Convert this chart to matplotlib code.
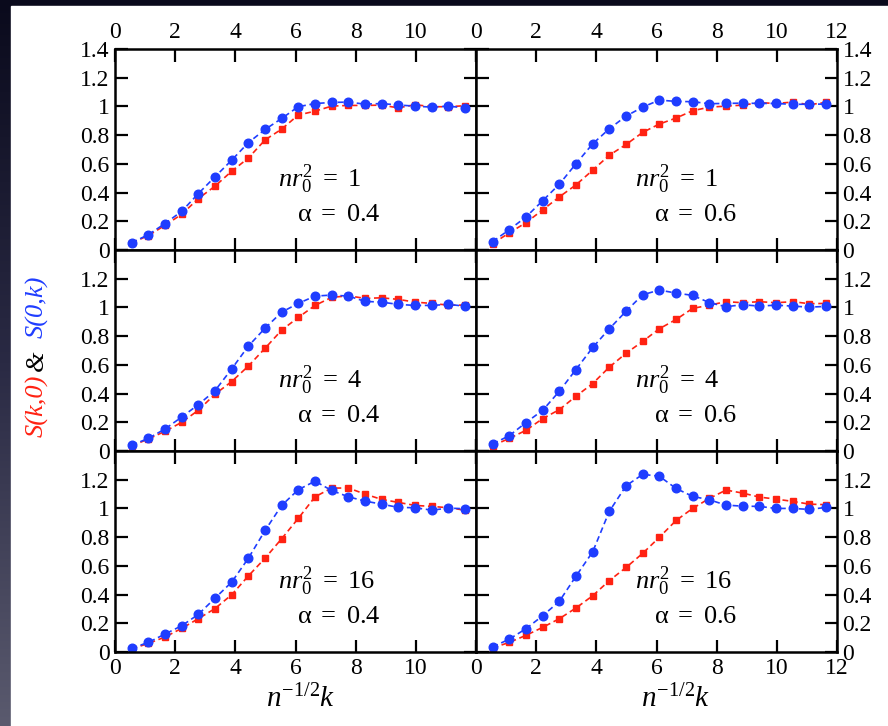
import numpy as np
import matplotlib
matplotlib.use("Agg")
from matplotlib import pyplot as plt
from matplotlib.patches import Rectangle


# k grid (units of n^{1/2})
k = [0.55, 1.11, 1.66, 2.22, 2.77, 3.32, 3.88, 4.43, 4.99, 5.54, 6.09,
     6.65, 7.20, 7.76, 8.31, 8.86, 9.42, 9.97, 10.53, 11.08, 11.63]

# S(k,0) -> red squares, S(0,k) -> blue circles
red_1_04 = [0.05, 0.10, 0.172, 0.249, 0.358, 0.444, 0.549, 0.64, 0.767, 0.842, 0.94,
            0.967, 1.002, 1.007, 1.007, 1.009, 0.99, 1.012, 0.998, 0.998, 1.005]
blue_1_04 = [0.05, 0.107, 0.184, 0.27, 0.393, 0.509, 0.626, 0.747, 0.84, 0.916, 0.998,
             1.02, 1.028, 1.03, 1.016, 1.02, 1.01, 1.002, 0.995, 1.002, 0.99]

red_1_06 = [0.044, 0.12, 0.19, 0.28, 0.37, 0.453, 0.556, 0.66, 0.735, 0.819, 0.877,
            0.919, 0.97, 0.995, 1.002, 1.009, 1.026, 1.021, 1.03, 1.012, 1.028]
blue_1_06 = [0.058, 0.142, 0.23, 0.344, 0.458, 0.60, 0.74, 0.844, 0.933, 0.995, 1.044,
             1.035, 1.033, 1.019, 1.021, 1.023, 1.021, 1.021, 1.014, 1.016, 1.016]

red_4_04 = [0.035, 0.084, 0.137, 0.20, 0.284, 0.395, 0.484, 0.591, 0.716, 0.842, 0.93,
            1.014, 1.07, 1.081, 1.063, 1.067, 1.056, 1.037, 1.028, 1.016, 1.016]
blue_4_04 = [0.04, 0.088, 0.153, 0.237, 0.323, 0.419, 0.572, 0.73, 0.856, 0.967, 1.028,
             1.079, 1.086, 1.079, 1.042, 1.037, 1.021, 1.014, 1.014, 1.021, 1.009]

red_4_06 = [0.037, 0.088, 0.144, 0.226, 0.288, 0.381, 0.47, 0.584, 0.681, 0.763, 0.851,
            0.916, 0.993, 1.016, 1.04, 1.033, 1.04, 1.033, 1.04, 1.026, 1.028]
blue_4_06 = [0.049, 0.107, 0.198, 0.284, 0.416, 0.567, 0.721, 0.851, 0.974, 1.088, 1.121,
             1.10, 1.084, 1.033, 1.005, 1.019, 1.009, 1.016, 1.009, 1.002, 1.007]

red_16_04 = [0.021, 0.06, 0.104, 0.165, 0.232, 0.302, 0.399, 0.529, 0.654, 0.789, 0.93,
             1.081, 1.142, 1.142, 1.10, 1.063, 1.042, 1.021, 1.014, 1.005, 0.988]
blue_16_04 = [0.026, 0.067, 0.125, 0.183, 0.262, 0.374, 0.487, 0.652, 0.847, 1.021, 1.13,
              1.19, 1.125, 1.081, 1.051, 1.03, 1.007, 1.005, 0.988, 1.002, 0.998]

red_16_06 = [0.028, 0.067, 0.116, 0.172, 0.232, 0.306, 0.392, 0.497, 0.589, 0.687, 0.798,
             0.916, 1.0, 1.07, 1.128, 1.107, 1.079, 1.065, 1.049, 1.03, 1.026]
blue_16_06 = [0.035, 0.09, 0.162, 0.253, 0.353, 0.527, 0.698, 0.979, 1.158, 1.237, 1.225,
              1.139, 1.084, 1.06, 1.023, 1.016, 1.014, 1.0, 1.0, 0.993, 1.007]

densities = ["1", "4", "16"]
alphas = ["0.4", "0.6"]
red_series = [[red_1_04, red_1_06], [red_4_04, red_4_06], [red_16_04, red_16_06]]
blue_series = [[blue_1_04, blue_1_06], [blue_4_04, blue_4_06], [blue_16_04, blue_16_06]]

RED = "#ff2212"
BLUE = "#1f3dff"

plt.rcParams["font.family"] = "serif"
plt.rcParams["font.serif"] = ["Liberation Serif", "DejaVu Serif"]
plt.rcParams["mathtext.fontset"] = "custom"
plt.rcParams["mathtext.rm"] = "Liberation Serif"
plt.rcParams["mathtext.it"] = "Liberation Serif:italic"
plt.rcParams["mathtext.bf"] = "Liberation Serif:bold"

W, H = 888, 726
fig = plt.figure(figsize=(W / 100, H / 100), dpi=100)

# dark slide background with a white card on top
bg = fig.add_axes([0, 0, 1, 1], zorder=-10)
grad = np.linspace(0, 1, 256)[:, None] * np.ones((1, 8))
bg.imshow(grad, aspect="auto", extent=[0, 1, 0, 1], origin="upper",
          cmap=matplotlib.colors.LinearSegmentedColormap.from_list(
              "slide", ["#0a0a1c", "#2a2a44", "#5a5a6e"]))
bg.add_patch(Rectangle((11 / W, 0), 1, 1 - 6 / H, color="white"))
bg.set_xlim(0, 1)
bg.set_ylim(0, 1)
bg.axis("off")

left, right = 115 / W, 837 / W
top, bottom = 1 - 49 / H, 1 - 652 / H
mid = 476 / W
colw = [mid - left, right - mid]
rowh = (top - bottom) / 3

for r in range(3):
    for c in range(2):
        x0 = left if c == 0 else mid
        y0 = top - (r + 1) * rowh
        ax = fig.add_axes([x0, y0, colw[c], rowh])
        ax.plot(k, red_series[r][c], color=RED, ls=(0, (3.5, 2.2)), lw=1.2,
                marker="s", ms=5, mec=RED, mfc=RED)
        ax.plot(k, blue_series[r][c], color=BLUE, ls=(0, (3.5, 2.2)), lw=1.2,
                marker="o", ms=6.2, mec=BLUE, mfc=BLUE)
        ax.set_xlim(0, 12)
        ax.set_ylim(0, 1.4)

        ax.set_xticks(np.arange(0, 13, 2))
        ax.set_yticks(np.arange(0, 1.41, 0.2))
        xl = ["0", "2", "4", "6", "8", "10", "12" if c == 1 else ""]
        yl = ["0", "0.2", "0.4", "0.6", "0.8", "1", "1.2", "1.4" if r == 0 else ""]
        ax.set_xticklabels(xl)
        ax.set_yticklabels(yl)
        ax.tick_params(direction="in", length=9, width=1.6, top=True, right=True,
                       labelsize=17, pad=4,
                       labelbottom=(r == 2), labeltop=(r == 0),
                       labelleft=(c == 0), labelright=(c == 1))
        for s in ax.spines.values():
            s.set_linewidth(1.8)

        tx = 5.42 if c == 0 else 5.3
        ax.text(tx, 0.44, r"$\mathit{nr_0^2\ =\ %s}$" % densities[r],
                fontsize=19, ha="left", va="baseline")
        ax.text(tx + 0.63, 0.2, r"$\mathrm{\alpha}\ \mathit{=\ %s}$" % alphas[c],
                fontsize=19, ha="left", va="baseline")

# axis labels
for xc in (301, 676):
    fig.text(xc / W, 1 - 707 / H, r"$\mathit{n^{-1/2}k}$", fontsize=21,
             ha="center", va="baseline")

fig.text(37 / W, 1 - 406 / H, "S(k,0)", color=RED, fontsize=19, style="italic",
         rotation=90, ha="center", va="center")
fig.text(37 / W, 1 - 361 / H, "&", color="black", fontsize=19, style="italic",
         rotation=90, ha="center", va="center")
fig.text(37 / W, 1 - 307 / H, "S(0,k)", color=BLUE, fontsize=19, style="italic",
         rotation=90, ha="center", va="center")

fig.savefig("out.png", dpi=100)
